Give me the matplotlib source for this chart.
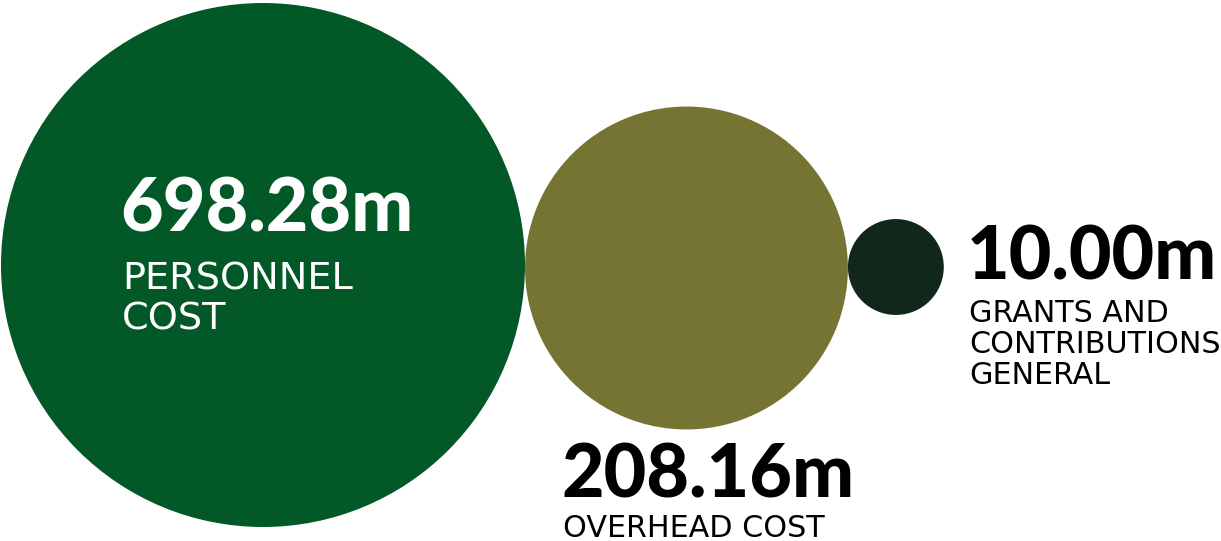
import matplotlib
matplotlib.use("Agg")
import matplotlib.pyplot as plt
from matplotlib.patches import Circle

# data
categories = ["PERSONNEL\nCOST", "OVERHEAD COST", "GRANTS AND\nCONTRIBUTIONS\nGENERAL"]
values = [698.28, 208.16, 10.00]
value_labels = ["698.28m", "208.16m", "10.00m"]
colors = ["#025826", "#767432", "#10271a"]

W, H = 1221, 541
fig = plt.figure(figsize=(W / 100, H / 100), dpi=100)
ax = fig.add_axes([0, 0, 1, 1])
ax.set_xlim(0, W)
ax.set_ylim(H, 0)
ax.set_aspect("equal")
ax.axis("off")

# bubble radius in pixels, scaled from the values
r_max = 262
radii = [r_max * (v / max(values)) ** 0.40 for v in values]

# circles sit side by side, touching
cx = [263]
for i in range(1, len(values)):
    cx.append(cx[-1] + radii[i - 1] + radii[i])
cy = [265, 268, 267]

for x, y, r, c in zip(cx, cy, radii, colors):
    ax.add_patch(Circle((x, y), r, color=c, lw=0))

num_font = dict(family="Lato", weight="black", size=53)

# text placement: (x, baseline of number, label size, label line step, label first baseline, colour)
text_pos = [
    (120, 232, 27.5, 39, 290, "white"),
    (561, 497, 21.7, 31, 537, "black"),
    (967, 280, 21.7, 31, 322, "black"),
]

for (tx, nb, ls, step, lb, tc), vl, cat in zip(text_pos, value_labels, categories):
    ax.text(tx, nb, vl, color=tc, ha="left", va="baseline", **num_font)
    for k, line in enumerate(cat.split("\n")):
        ax.text(tx + 2, lb + k * step, line, color=tc, ha="left", va="baseline",
                family="DejaVu Sans", size=ls)

fig.savefig("out.png", dpi=100)
